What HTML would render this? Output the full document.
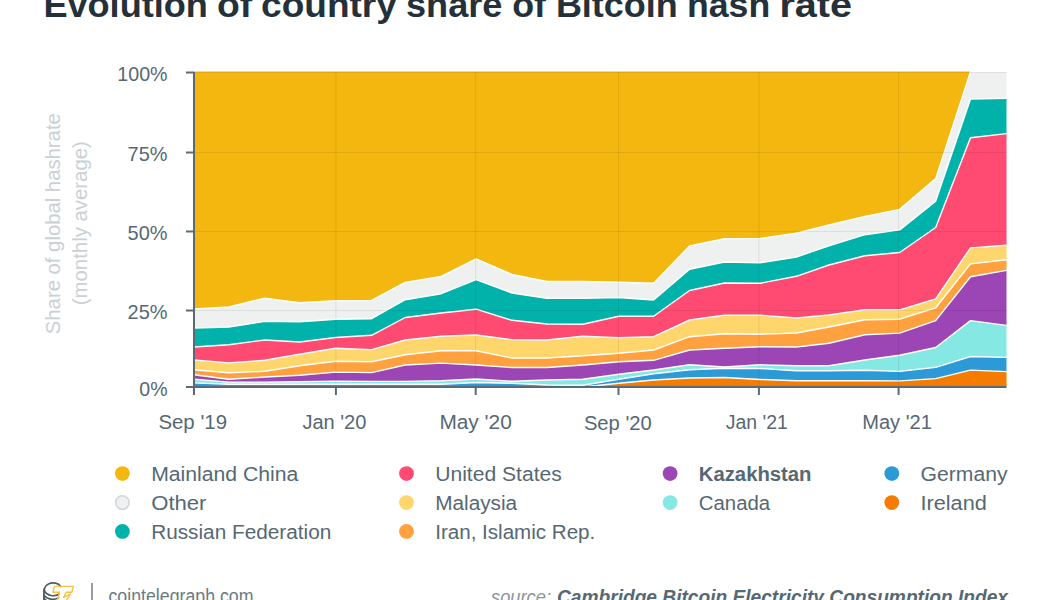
<!DOCTYPE html>
<html><head><meta charset="utf-8"><style>
html,body{margin:0;padding:0;background:#fff;width:1050px;height:600px;overflow:hidden}
svg{display:block;font-family:"Liberation Sans",sans-serif}
</style></head><body>
<svg width="1050" height="600" viewBox="0 0 1050 600">
<g font-size="35" font-weight="bold" fill="#25313a"><text x="43.40" y="17.4" textLength="164.50" lengthAdjust="spacingAndGlyphs">Evolution</text><text x="217.10" y="17.4" textLength="35.20" lengthAdjust="spacingAndGlyphs">of</text><text x="261.10" y="17.4" textLength="135.70" lengthAdjust="spacingAndGlyphs">country</text><text x="406.00" y="17.4" textLength="96.40" lengthAdjust="spacingAndGlyphs">share</text><text x="512.20" y="17.4" textLength="33.80" lengthAdjust="spacingAndGlyphs">of</text><text x="555.90" y="17.4" textLength="121.90" lengthAdjust="spacingAndGlyphs">Bitcoin</text><text x="687.00" y="17.4" textLength="83.20" lengthAdjust="spacingAndGlyphs">hash</text><text x="779.40" y="17.4" textLength="72.60" lengthAdjust="spacingAndGlyphs">rate</text></g>
<g><path d="M194.0,387.0 L228.8,387.0 L264.8,387.0 L299.6,387.0 L335.6,387.0 L371.6,387.0 L405.2,387.0 L441.2,387.0 L476.1,387.0 L512.0,387.0 L546.9,387.0 L582.8,387.0 L618.8,383.3 L653.6,380.0 L689.6,378.0 L724.4,377.5 L760.4,379.5 L796.4,380.8 L828.9,380.8 L864.9,380.8 L899.7,380.9 L935.7,378.6 L970.5,370.1 L1006.5,371.6 L1006.5,387.0 L970.5,387.0 L935.7,387.0 L899.7,387.0 L864.9,387.0 L828.9,387.0 L796.4,387.0 L760.4,387.0 L724.4,387.0 L689.6,387.0 L653.6,387.0 L618.8,387.0 L582.8,387.0 L546.9,387.0 L512.0,387.0 L476.1,387.0 L441.2,387.0 L405.2,387.0 L371.6,387.0 L335.6,387.0 L299.6,387.0 L264.8,387.0 L228.8,387.0 L194.0,387.0Z" fill="#f57c00"/><path d="M194.0,382.9 L228.8,384.3 L264.8,384.3 L299.6,384.3 L335.6,384.3 L371.6,384.3 L405.2,384.3 L441.2,384.3 L476.1,382.5 L512.0,383.3 L546.9,385.0 L582.8,385.3 L618.8,379.2 L653.6,373.8 L689.6,369.7 L724.4,368.3 L760.4,368.5 L796.4,370.8 L828.9,370.8 L864.9,370.3 L899.7,371.4 L935.7,367.3 L970.5,356.5 L1006.5,357.4 L1006.5,371.6 L970.5,370.1 L935.7,378.6 L899.7,380.9 L864.9,380.8 L828.9,380.8 L796.4,380.8 L760.4,379.5 L724.4,377.5 L689.6,378.0 L653.6,380.0 L618.8,383.3 L582.8,387.0 L546.9,387.0 L512.0,387.0 L476.1,387.0 L441.2,387.0 L405.2,387.0 L371.6,387.0 L335.6,387.0 L299.6,387.0 L264.8,387.0 L228.8,387.0 L194.0,387.0Z" fill="#2d9ad8"/><path d="M194.0,379.3 L228.8,382.1 L264.8,382.1 L299.6,381.7 L335.6,381.1 L371.6,381.4 L405.2,381.4 L441.2,380.7 L476.1,379.0 L512.0,381.3 L546.9,380.0 L582.8,379.2 L618.8,374.2 L653.6,370.0 L689.6,364.7 L724.4,367.0 L760.4,364.8 L796.4,365.8 L828.9,365.8 L864.9,360.0 L899.7,355.3 L935.7,347.5 L970.5,320.6 L1006.5,325.4 L1006.5,357.4 L970.5,356.5 L935.7,367.3 L899.7,371.4 L864.9,370.3 L828.9,370.8 L796.4,370.8 L760.4,368.5 L724.4,368.3 L689.6,369.7 L653.6,373.8 L618.8,379.2 L582.8,385.3 L546.9,385.0 L512.0,383.3 L476.1,382.5 L441.2,384.3 L405.2,384.3 L371.6,384.3 L335.6,384.3 L299.6,384.3 L264.8,384.3 L228.8,384.3 L194.0,382.9Z" fill="#85e8e2"/><path d="M194.0,374.7 L228.8,379.3 L264.8,377.0 L299.6,375.3 L335.6,372.1 L371.6,372.6 L405.2,365.0 L441.2,363.1 L476.1,365.0 L512.0,367.5 L546.9,367.5 L582.8,365.0 L618.8,361.7 L653.6,360.3 L689.6,350.0 L724.4,348.3 L760.4,346.7 L796.4,347.0 L828.9,343.3 L864.9,334.7 L899.7,333.1 L935.7,320.6 L970.5,276.7 L1006.5,270.4 L1006.5,325.4 L970.5,320.6 L935.7,347.5 L899.7,355.3 L864.9,360.0 L828.9,365.8 L796.4,365.8 L760.4,364.8 L724.4,367.0 L689.6,364.7 L653.6,370.0 L618.8,374.2 L582.8,379.2 L546.9,380.0 L512.0,381.3 L476.1,379.0 L441.2,380.7 L405.2,381.4 L371.6,381.4 L335.6,381.1 L299.6,381.7 L264.8,382.1 L228.8,382.1 L194.0,379.3Z" fill="#9c45b5"/><path d="M194.0,369.8 L228.8,372.8 L264.8,371.2 L299.6,365.8 L335.6,361.3 L371.6,361.7 L405.2,354.7 L441.2,350.7 L476.1,350.8 L512.0,358.0 L546.9,358.0 L582.8,355.8 L618.8,353.2 L653.6,350.0 L689.6,336.7 L724.4,333.7 L760.4,334.2 L796.4,333.0 L828.9,327.0 L864.9,319.7 L899.7,319.2 L935.7,307.8 L970.5,263.9 L1006.5,259.7 L1006.5,270.4 L970.5,276.7 L935.7,320.6 L899.7,333.1 L864.9,334.7 L828.9,343.3 L796.4,347.0 L760.4,346.7 L724.4,348.3 L689.6,350.0 L653.6,360.3 L618.8,361.7 L582.8,365.0 L546.9,367.5 L512.0,367.5 L476.1,365.0 L441.2,363.1 L405.2,365.0 L371.6,372.6 L335.6,372.1 L299.6,375.3 L264.8,377.0 L228.8,379.3 L194.0,374.7Z" fill="#ffa13f"/><path d="M194.0,360.0 L228.8,362.9 L264.8,360.3 L299.6,354.2 L335.6,348.3 L371.6,349.7 L405.2,340.0 L441.2,336.3 L476.1,335.0 L512.0,339.7 L546.9,340.0 L582.8,336.3 L618.8,337.8 L653.6,336.7 L689.6,320.0 L724.4,315.3 L760.4,315.3 L796.4,318.0 L828.9,315.0 L864.9,309.7 L899.7,309.8 L935.7,298.8 L970.5,247.9 L1006.5,245.2 L1006.5,259.7 L970.5,263.9 L935.7,307.8 L899.7,319.2 L864.9,319.7 L828.9,327.0 L796.4,333.0 L760.4,334.2 L724.4,333.7 L689.6,336.7 L653.6,350.0 L618.8,353.2 L582.8,355.8 L546.9,358.0 L512.0,358.0 L476.1,350.8 L441.2,350.7 L405.2,354.7 L371.6,361.7 L335.6,361.3 L299.6,365.8 L264.8,371.2 L228.8,372.8 L194.0,369.8Z" fill="#ffd66b"/><path d="M194.0,347.0 L228.8,344.7 L264.8,340.0 L299.6,342.0 L335.6,337.5 L371.6,335.3 L405.2,317.5 L441.2,313.0 L476.1,309.2 L512.0,320.3 L546.9,324.0 L582.8,324.2 L618.8,316.3 L653.6,316.3 L689.6,290.5 L724.4,283.0 L760.4,283.2 L796.4,276.3 L828.9,265.0 L864.9,255.8 L899.7,252.5 L935.7,227.5 L970.5,137.7 L1006.5,133.6 L1006.5,245.2 L970.5,247.9 L935.7,298.8 L899.7,309.8 L864.9,309.7 L828.9,315.0 L796.4,318.0 L760.4,315.3 L724.4,315.3 L689.6,320.0 L653.6,336.7 L618.8,337.8 L582.8,336.3 L546.9,340.0 L512.0,339.7 L476.1,335.0 L441.2,336.3 L405.2,340.0 L371.6,349.7 L335.6,348.3 L299.6,354.2 L264.8,360.3 L228.8,362.9 L194.0,360.0Z" fill="#ff4a72"/><path d="M194.0,328.0 L228.8,327.0 L264.8,321.3 L299.6,321.7 L335.6,319.2 L371.6,318.7 L405.2,299.7 L441.2,293.7 L476.1,279.7 L512.0,293.0 L546.9,298.3 L582.8,298.3 L618.8,297.5 L653.6,300.0 L689.6,269.2 L724.4,262.0 L760.4,262.7 L796.4,257.0 L828.9,245.8 L864.9,234.7 L899.7,229.9 L935.7,201.1 L970.5,99.0 L1006.5,98.3 L1006.5,133.6 L970.5,137.7 L935.7,227.5 L899.7,252.5 L864.9,255.8 L828.9,265.0 L796.4,276.3 L760.4,283.2 L724.4,283.0 L689.6,290.5 L653.6,316.3 L618.8,316.3 L582.8,324.2 L546.9,324.0 L512.0,320.3 L476.1,309.2 L441.2,313.0 L405.2,317.5 L371.6,335.3 L335.6,337.5 L299.6,342.0 L264.8,340.0 L228.8,344.7 L194.0,347.0Z" fill="#00b2aa"/><path d="M194.0,309.0 L228.8,306.9 L264.8,298.2 L299.6,302.7 L335.6,300.7 L371.6,300.4 L405.2,282.4 L441.2,276.5 L476.1,259.0 L512.0,274.5 L546.9,281.5 L582.8,281.5 L618.8,282.2 L653.6,283.2 L689.6,246.0 L724.4,238.7 L760.4,238.4 L796.4,233.2 L828.9,224.9 L864.9,216.5 L899.7,209.4 L935.7,178.6 L970.5,71.6 L1006.5,71.6 L1006.5,98.3 L970.5,99.0 L935.7,201.1 L899.7,229.9 L864.9,234.7 L828.9,245.8 L796.4,257.0 L760.4,262.7 L724.4,262.0 L689.6,269.2 L653.6,300.0 L618.8,297.5 L582.8,298.3 L546.9,298.3 L512.0,293.0 L476.1,279.7 L441.2,293.7 L405.2,299.7 L371.6,318.7 L335.6,319.2 L299.6,321.7 L264.8,321.3 L228.8,327.0 L194.0,328.0Z" fill="#eff1f1"/><path d="M194.0,71.6 L228.8,71.6 L264.8,71.6 L299.6,71.6 L335.6,71.6 L371.6,71.6 L405.2,71.6 L441.2,71.6 L476.1,71.6 L512.0,71.6 L546.9,71.6 L582.8,71.6 L618.8,71.6 L653.6,71.6 L689.6,71.6 L724.4,71.6 L760.4,71.6 L796.4,71.6 L828.9,71.6 L864.9,71.6 L899.7,71.6 L935.7,71.6 L970.5,71.6 L1006.5,71.6 L1006.5,71.6 L970.5,71.6 L935.7,178.6 L899.7,209.4 L864.9,216.5 L828.9,224.9 L796.4,233.2 L760.4,238.4 L724.4,238.7 L689.6,246.0 L653.6,283.2 L618.8,282.2 L582.8,281.5 L546.9,281.5 L512.0,274.5 L476.1,259.0 L441.2,276.5 L405.2,282.4 L371.6,300.4 L335.6,300.7 L299.6,302.7 L264.8,298.2 L228.8,306.9 L194.0,309.0Z" fill="#f4b70f"/></g>
<g fill="none" stroke="#fff" stroke-width="1.4" stroke-linejoin="round"><path d="M194.0,387.0 L228.8,387.0 L264.8,387.0 L299.6,387.0 L335.6,387.0 L371.6,387.0 L405.2,387.0 L441.2,387.0 L476.1,387.0 L512.0,387.0 L546.9,387.0 L582.8,387.0 L618.8,383.3 L653.6,380.0 L689.6,378.0 L724.4,377.5 L760.4,379.5 L796.4,380.8 L828.9,380.8 L864.9,380.8 L899.7,380.9 L935.7,378.6 L970.5,370.1 L1006.5,371.6"/><path d="M194.0,382.9 L228.8,384.3 L264.8,384.3 L299.6,384.3 L335.6,384.3 L371.6,384.3 L405.2,384.3 L441.2,384.3 L476.1,382.5 L512.0,383.3 L546.9,385.0 L582.8,385.3 L618.8,379.2 L653.6,373.8 L689.6,369.7 L724.4,368.3 L760.4,368.5 L796.4,370.8 L828.9,370.8 L864.9,370.3 L899.7,371.4 L935.7,367.3 L970.5,356.5 L1006.5,357.4"/><path d="M194.0,379.3 L228.8,382.1 L264.8,382.1 L299.6,381.7 L335.6,381.1 L371.6,381.4 L405.2,381.4 L441.2,380.7 L476.1,379.0 L512.0,381.3 L546.9,380.0 L582.8,379.2 L618.8,374.2 L653.6,370.0 L689.6,364.7 L724.4,367.0 L760.4,364.8 L796.4,365.8 L828.9,365.8 L864.9,360.0 L899.7,355.3 L935.7,347.5 L970.5,320.6 L1006.5,325.4"/><path d="M194.0,374.7 L228.8,379.3 L264.8,377.0 L299.6,375.3 L335.6,372.1 L371.6,372.6 L405.2,365.0 L441.2,363.1 L476.1,365.0 L512.0,367.5 L546.9,367.5 L582.8,365.0 L618.8,361.7 L653.6,360.3 L689.6,350.0 L724.4,348.3 L760.4,346.7 L796.4,347.0 L828.9,343.3 L864.9,334.7 L899.7,333.1 L935.7,320.6 L970.5,276.7 L1006.5,270.4"/><path d="M194.0,369.8 L228.8,372.8 L264.8,371.2 L299.6,365.8 L335.6,361.3 L371.6,361.7 L405.2,354.7 L441.2,350.7 L476.1,350.8 L512.0,358.0 L546.9,358.0 L582.8,355.8 L618.8,353.2 L653.6,350.0 L689.6,336.7 L724.4,333.7 L760.4,334.2 L796.4,333.0 L828.9,327.0 L864.9,319.7 L899.7,319.2 L935.7,307.8 L970.5,263.9 L1006.5,259.7"/><path d="M194.0,360.0 L228.8,362.9 L264.8,360.3 L299.6,354.2 L335.6,348.3 L371.6,349.7 L405.2,340.0 L441.2,336.3 L476.1,335.0 L512.0,339.7 L546.9,340.0 L582.8,336.3 L618.8,337.8 L653.6,336.7 L689.6,320.0 L724.4,315.3 L760.4,315.3 L796.4,318.0 L828.9,315.0 L864.9,309.7 L899.7,309.8 L935.7,298.8 L970.5,247.9 L1006.5,245.2"/><path d="M194.0,347.0 L228.8,344.7 L264.8,340.0 L299.6,342.0 L335.6,337.5 L371.6,335.3 L405.2,317.5 L441.2,313.0 L476.1,309.2 L512.0,320.3 L546.9,324.0 L582.8,324.2 L618.8,316.3 L653.6,316.3 L689.6,290.5 L724.4,283.0 L760.4,283.2 L796.4,276.3 L828.9,265.0 L864.9,255.8 L899.7,252.5 L935.7,227.5 L970.5,137.7 L1006.5,133.6"/><path d="M194.0,328.0 L228.8,327.0 L264.8,321.3 L299.6,321.7 L335.6,319.2 L371.6,318.7 L405.2,299.7 L441.2,293.7 L476.1,279.7 L512.0,293.0 L546.9,298.3 L582.8,298.3 L618.8,297.5 L653.6,300.0 L689.6,269.2 L724.4,262.0 L760.4,262.7 L796.4,257.0 L828.9,245.8 L864.9,234.7 L899.7,229.9 L935.7,201.1 L970.5,99.0 L1006.5,98.3"/><path d="M194.0,309.0 L228.8,306.9 L264.8,298.2 L299.6,302.7 L335.6,300.7 L371.6,300.4 L405.2,282.4 L441.2,276.5 L476.1,259.0 L512.0,274.5 L546.9,281.5 L582.8,281.5 L618.8,282.2 L653.6,283.2 L689.6,246.0 L724.4,238.7 L760.4,238.4 L796.4,233.2 L828.9,224.9 L864.9,216.5 L899.7,209.4 L935.7,178.6 L970.5,71.6 L1006.5,71.6"/></g>
<g stroke="#000" stroke-opacity="0.08" stroke-width="1"><line x1="194" x2="1006.5" y1="72.5" y2="72.5"/><line x1="194" x2="1006.5" y1="152.5" y2="152.5"/><line x1="194" x2="1006.5" y1="231.5" y2="231.5"/><line x1="194" x2="1006.5" y1="310.5" y2="310.5"/><line y1="72" y2="387" x1="335.9" x2="335.9"/><line y1="72" y2="387" x1="475.7" x2="475.7"/><line y1="72" y2="387" x1="618.5" x2="618.5"/><line y1="72" y2="387" x1="758.9" x2="758.9"/><line y1="72" y2="387" x1="898.6" x2="898.6"/></g>
<g stroke="#596a75" stroke-width="2"><line x1="194" x2="194" y1="72" y2="395"/><line x1="186" x2="1006.5" y1="387" y2="387"/><line x1="186" x2="194" y1="72.5" y2="72.5"/><line x1="186" x2="194" y1="152.5" y2="152.5"/><line x1="186" x2="194" y1="231.5" y2="231.5"/><line x1="186" x2="194" y1="310.5" y2="310.5"/><line x1="186" x2="194" y1="387.0" y2="387.0"/><line y1="387" y2="395" x1="194.0" x2="194.0"/><line y1="387" y2="395" x1="335.9" x2="335.9"/><line y1="387" y2="395" x1="475.7" x2="475.7"/><line y1="387" y2="395" x1="618.5" x2="618.5"/><line y1="387" y2="395" x1="758.9" x2="758.9"/><line y1="387" y2="395" x1="898.6" x2="898.6"/></g>
<g font-size="19.5" fill="#566873"><text x="167.5" y="81.2" text-anchor="end" font-size="21" textLength="50.2" lengthAdjust="spacingAndGlyphs">100%</text><text x="167.5" y="161.2" text-anchor="end" font-size="21" textLength="39.9" lengthAdjust="spacingAndGlyphs">75%</text><text x="167.5" y="240.2" text-anchor="end" font-size="21" textLength="39.9" lengthAdjust="spacingAndGlyphs">50%</text><text x="167.5" y="319.2" text-anchor="end" font-size="21" textLength="39.9" lengthAdjust="spacingAndGlyphs">25%</text><text x="167.5" y="395.7" text-anchor="end" font-size="21" textLength="28.2" lengthAdjust="spacingAndGlyphs">0%</text><text x="158.4" y="428.6" font-size="20" textLength="68.6" lengthAdjust="spacingAndGlyphs">Sep '19</text><text x="302.4" y="428.6" font-size="20" textLength="64.0" lengthAdjust="spacingAndGlyphs">Jan '20</text><text x="439.4" y="428.6" font-size="20" textLength="72.4" lengthAdjust="spacingAndGlyphs">May '20</text><text x="583.9" y="430.1" font-size="20" textLength="67.9" lengthAdjust="spacingAndGlyphs">Sep '20</text><text x="725.7" y="428.6" font-size="20" textLength="62.1" lengthAdjust="spacingAndGlyphs">Jan '21</text><text x="862.2" y="428.6" font-size="20" textLength="69.6" lengthAdjust="spacingAndGlyphs">May '21</text></g>
<g font-size="21" fill="#c8d1d6" text-anchor="middle">
<text transform="translate(59.5,223.7) rotate(-90)" textLength="221" lengthAdjust="spacingAndGlyphs">Share of global hashrate</text>
<text transform="translate(86.5,223.2) rotate(-90)" textLength="164" lengthAdjust="spacingAndGlyphs">(monthly average)</text>
</g>
<g font-size="19.5" fill="#566873"><circle cx="122.4" cy="473.6" r="7.4" fill="#f4b70f"/><text x="151.2" y="481.4" font-size="20" textLength="147.2" lengthAdjust="spacingAndGlyphs">Mainland China</text><circle cx="122.4" cy="502.6" r="6.8" stroke="#d2d7da" stroke-width="1.6" fill="#eff1f1"/><text x="151.2" y="510.4" font-size="20" textLength="55.3" lengthAdjust="spacingAndGlyphs">Other</text><circle cx="122.4" cy="531.4" r="7.4" fill="#00b2aa"/><text x="151.2" y="539.2" font-size="20" textLength="180.1" lengthAdjust="spacingAndGlyphs">Russian Federation</text><circle cx="406.5" cy="473.6" r="7.4" fill="#ff4a72"/><text x="435.2" y="481.4" font-size="20" textLength="126.6" lengthAdjust="spacingAndGlyphs">United States</text><circle cx="406.5" cy="502.6" r="7.4" fill="#ffd66b"/><text x="435.2" y="510.4" font-size="20" textLength="82.0" lengthAdjust="spacingAndGlyphs">Malaysia</text><circle cx="406.5" cy="531.4" r="7.4" fill="#ffa13f"/><text x="435.2" y="539.2" font-size="20" textLength="160.1" lengthAdjust="spacingAndGlyphs">Iran, Islamic Rep.</text><circle cx="670.1" cy="473.6" r="7.4" fill="#9c45b5"/><text x="698.8" y="481.4" font-weight="bold" font-size="20" textLength="112.7" lengthAdjust="spacingAndGlyphs">Kazakhstan</text><circle cx="670.1" cy="502.6" r="7.4" fill="#85e8e2"/><text x="698.8" y="510.4" font-size="20" textLength="71.3" lengthAdjust="spacingAndGlyphs">Canada</text><circle cx="891.8" cy="473.6" r="7.4" fill="#2d9ad8"/><text x="920.5" y="481.4" font-size="20" textLength="87.0" lengthAdjust="spacingAndGlyphs">Germany</text><circle cx="891.8" cy="502.6" r="7.4" fill="#f57c00"/><text x="920.5" y="510.4" font-size="20" textLength="66.3" lengthAdjust="spacingAndGlyphs">Ireland</text></g>
<g fill="none" stroke-linecap="round" stroke-linejoin="round">
<path d="M60.8,586.4 A8.7,6.4 0 1 0 58.8,594.2 M43.9,589.4 V601 M43.9,593 A8.7,5.8 0 0 0 58.6,597.6 M43.9,597 A8.7,5.8 0 0 0 57,601.5" stroke="#4f5b62" stroke-width="1.7"/>
<path d="M54.4,586.4 L73.4,586.4 L71.8,592.2 L66.1,592.2 L63.7,597.3 L70.2,594.2 L66,601 M54.4,586.4 L53.0,592.2 L59.6,592.2 L57.2,601" stroke="#f5c444" stroke-width="1.4"/>
</g>
<line x1="92" x2="92" y1="583" y2="600" stroke="#9c9c9c" stroke-width="2"/>
<text x="108.5" y="602.6" font-size="20" fill="#6b7a82" textLength="145" lengthAdjust="spacingAndGlyphs">cointelegraph.com</text>
<text y="604" font-size="19.5" font-style="italic"><tspan x="491" fill="#8a979e" textLength="60" lengthAdjust="spacingAndGlyphs">source:</tspan><tspan x="557" font-weight="bold" fill="#566873" textLength="451" lengthAdjust="spacingAndGlyphs">Cambridge Bitcoin Electricity Consumption Index</tspan></text>
</svg>
</body></html>
